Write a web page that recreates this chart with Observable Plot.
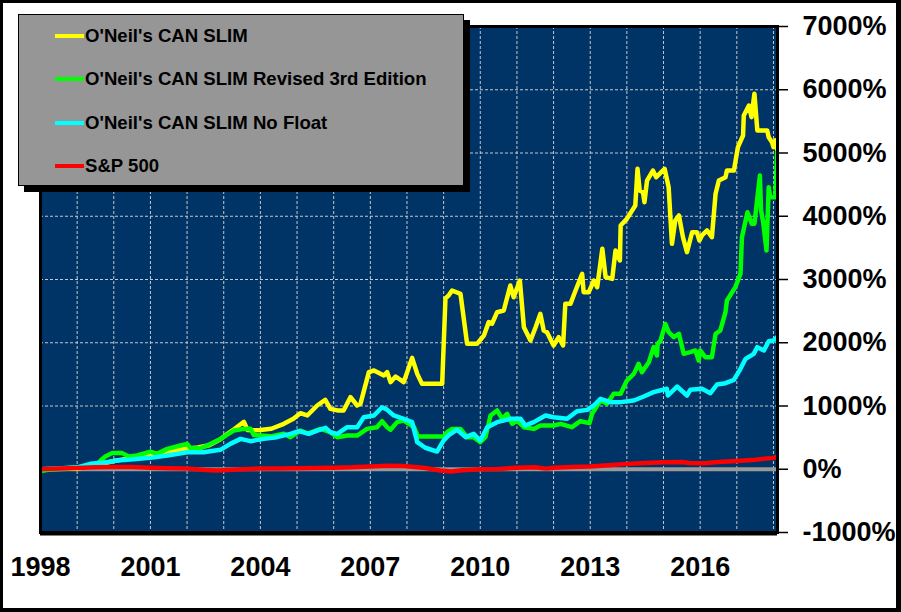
<!DOCTYPE html>
<html>
<head>
<meta charset="utf-8">
<script src="https://cdn.jsdelivr.net/npm/d3@7"></script>
<script src="https://cdn.jsdelivr.net/npm/@observablehq/plot@0.6"></script>
<style>
  html, body { margin: 0; padding: 0; background: #fff; }
  #wrap { position: relative; width: 901px; height: 612px; overflow: hidden; background: #fff; }
  #outline { position: absolute; left: 0; top: 0; width: 901px; height: 612px; box-sizing: border-box;
    border-style: solid; border-color: #000; border-width: 3px 5px 4px 3px; pointer-events: none; }
  .chart text { font-family: "Liberation Sans", Arial, sans-serif; font-weight: bold; font-size: 27px; fill: #000; }
  #legend { position: absolute; left: 18px; top: 14px; width: 446px; height: 172px; box-sizing: border-box;
    background: #969696; border: 1px solid #000; box-shadow: 6px 6px 0 #000;
    font-family: "Liberation Sans", Arial, sans-serif; font-weight: bold; font-size: 18.6px; color: #000; }
  .row { position: absolute; left: 36px; height: 24px; display: flex; align-items: center; white-space: nowrap; }
  .swatch { width: 29px; height: 4px; margin-right: 1px; }
</style>
</head>
<body>
<div id="wrap"></div>
<script>
// ---- Data (decimal year, cumulative return %) ----
const seriesNames = ["O'Neil's CAN SLIM", "O'Neil's CAN SLIM Revised 3rd Edition", "O'Neil's CAN SLIM No Float", "S&P 500"];
const seriesColors = ["#ffff00", "#00ff00", "#00ffff", "#ff0000"];
const yTicks = [-1000, 0, 1000, 2000, 3000, 4000, 5000, 6000, 7000];
const xTickYears = [1998, 2001, 2004, 2007, 2010, 2013, 2016];

const canSlim = [
  [1998.0,0],[1998.5,5],[1999.0,10],[1999.4,40],[1999.7,90],[2000.0,130],[2000.3,160],[2000.6,190],
  [2001.0,230],[2001.3,260],[2001.6,290],[2002.0,330],[2002.3,345],[2002.6,380],[2002.9,470],[2003.1,560],
  [2003.3,640],[2003.55,750],[2003.65,620],[2003.8,615],[2004.0,620],[2004.3,640],[2004.64,718],[2004.9,800],
  [2005.09,887],[2005.28,850],[2005.55,1008],[2005.77,1098],[2005.91,955],[2006.1,930],[2006.27,929],
  [2006.46,1140],[2006.64,1008],[2006.73,1034],[2006.96,1535],[2007.1,1561],[2007.37,1482],[2007.46,1535],
  [2007.55,1377],[2007.69,1466],[2007.91,1377],[2008.14,1761],[2008.28,1508],[2008.41,1350],[2008.96,1350],
  [2009.05,2700],[2009.14,2750],[2009.23,2826],[2009.46,2773],[2009.64,1983],[2009.91,1983],[2010.1,2115],
  [2010.23,2326],[2010.32,2300],[2010.46,2483],[2010.64,2510],[2010.82,2905],[2010.91,2720],[2011.08,2984],
  [2011.19,2246],[2011.37,2036],[2011.51,2246],[2011.64,2457],[2011.73,2194],[2011.82,2167],[2012.0,1957],
  [2012.14,2088],[2012.26,1957],[2012.32,2615],[2012.46,2615],[2012.6,2826],[2012.78,3090],[2012.82,2800],
  [2012.96,2800],[2013.1,2984],[2013.19,2879],[2013.33,3485],[2013.42,3037],[2013.6,3010],[2013.69,3458],
  [2013.81,3300],[2013.83,3854],[2014.0,3959],[2014.23,4170],[2014.29,4750],[2014.35,4407],[2014.44,4381],
  [2014.48,4222],[2014.55,4565],[2014.71,4723],[2014.8,4618],[2015.03,4750],[2015.14,4460],[2015.23,3564],
  [2015.32,3933],[2015.42,4012],[2015.53,3669],[2015.64,3432],[2015.78,3748],[2015.91,3748],[2015.98,3617],
  [2016.05,3696],[2016.19,3775],[2016.32,3669],[2016.42,4355],[2016.51,4565],[2016.69,4618],[2016.73,4723],
  [2016.92,4723],[2017.03,5092],[2017.17,5277],[2017.19,5593],[2017.33,5751],[2017.4,5567],[2017.48,5936],
  [2017.56,5355],[2017.83,5355],[2017.87,5250],[2017.96,5171],[2018.0,5092],[2018.05,5200],[2018.1,5050]
];

const canSlimRevised = [
  [1998.0,-30],[1998.3,0],[1998.8,20],[1999.2,40],[1999.55,80],[1999.64,138],[1999.77,200],[1999.95,255],
  [2000.23,255],[2000.41,200],[2000.64,217],[2001.0,280],[2001.18,243],[2001.46,322],[2001.82,375],[2002.0,401],
  [2002.09,333],[2002.37,333],[2002.55,375],[2002.91,480],[2003.27,612],[2003.55,638],[2003.73,640],[2003.82,540],
  [2004.0,533],[2004.28,520],[2004.64,563],[2004.82,507],[2005.09,612],[2005.3,563],[2005.64,638],[2005.91,586],
  [2006.1,507],[2006.37,533],[2006.64,533],[2006.91,638],[2007.18,665],[2007.32,760],[2007.46,665],[2007.55,625],
  [2007.73,745],[2007.91,770],[2008.19,665],[2008.3,518],[2009.0,518],[2009.1,586],[2009.23,638],[2009.46,638],
  [2009.64,507],[2009.82,507],[2010.0,428],[2010.14,507],[2010.28,850],[2010.46,929],[2010.6,797],[2010.73,876],
  [2010.87,718],[2011.0,770],[2011.19,665],[2011.46,638],[2011.64,692],[2012.0,692],[2012.19,718],[2012.5,665],
  [2012.73,760],[2012.98,729],[2013.05,876],[2013.28,1087],[2013.46,1034],[2013.64,1193],[2013.83,1193],
  [2014.0,1403],[2014.19,1508],[2014.32,1667],[2014.41,1535],[2014.6,1693],[2014.73,1930],[2014.82,1798],
  [2014.84,1983],[2014.92,2036],[2015.05,2299],[2015.14,2167],[2015.28,2088],[2015.42,2141],[2015.55,1825],
  [2015.73,1851],[2015.87,1878],[2015.96,1720],[2016.0,1878],[2016.14,1772],[2016.32,1772],[2016.42,2141],
  [2016.55,2194],[2016.69,2483],[2016.73,2668],[2016.96,2879],[2017.1,3090],[2017.14,3669],[2017.29,4064],
  [2017.41,3880],[2017.48,3880],[2017.63,4644],[2017.66,4100],[2017.72,3900],[2017.81,3458],[2017.87,4460],
  [2017.91,4302],[2018.05,4302],[2018.1,5013]
];

const canSlimNoFloat = [
  [1998.0,0],[1998.5,10],[1999.0,30],[1999.36,86],[1999.82,112],[2000.09,138],[2000.45,154],[2001.0,180],
  [2001.46,217],[2002.0,270],[2002.45,270],[2002.91,307],[2003.18,401],[2003.46,480],[2003.73,444],[2004.09,480],
  [2004.45,507],[2004.82,560],[2005.05,602],[2005.32,560],[2005.55,612],[2005.78,655],[2005.91,586],[2006.1,560],
  [2006.37,665],[2006.64,665],[2006.82,823],[2007.1,850],[2007.32,981],[2007.46,939],[2007.64,850],[2007.91,797],
  [2008.14,745],[2008.28,428],[2008.5,340],[2008.82,280],[2009.0,455],[2009.14,540],[2009.37,625],[2009.6,507],
  [2009.82,560],[2010.0,455],[2010.19,665],[2010.46,745],[2010.82,797],[2011.1,797],[2011.23,692],[2011.46,745],
  [2011.78,850],[2012.0,823],[2012.37,797],[2012.64,918],[2012.92,939],[2013.1,1008],[2013.28,1113],[2013.55,1061],
  [2013.83,1061],[2014.19,1087],[2014.46,1150],[2014.73,1219],[2015.09,1272],[2015.12,1166],[2015.37,1308],
  [2015.64,1166],[2015.73,1256],[2016.05,1272],[2016.28,1203],[2016.46,1340],[2016.69,1361],[2016.92,1413],
  [2017.1,1588],[2017.24,1746],[2017.46,1825],[2017.56,1930],[2017.74,1878],[2017.87,2025],[2018.0,2036],[2018.1,2088]
];

const sp500 = [
  [1998.0,0],[1998.5,10],[1999.0,20],[1999.5,30],[2000.0,35],[2000.5,35],[2001.0,25],[2001.5,15],[2002.0,10],
  [2002.5,-10],[2002.8,-20],[2003.0,-15],[2003.5,0],[2004.0,10],[2004.5,10],[2005.0,15],[2005.5,20],[2006.0,25],
  [2006.5,30],[2007.0,45],[2007.5,55],[2007.9,50],[2008.5,20],[2008.9,-20],[2009.2,-35],[2009.5,-15],[2010.0,0],
  [2010.5,5],[2011.0,25],[2011.5,30],[2011.8,10],[2012.0,25],[2012.5,35],[2013.0,45],[2013.5,65],[2014.0,85],
  [2014.5,100],[2015.0,110],[2015.5,115],[2015.7,100],[2016.1,95],[2016.5,115],[2017.0,130],[2017.5,150],
  [2018.0,180],[2018.1,195]
];

const allSeries = [canSlim, canSlimRevised, canSlimNoFloat, sp500];

const gridYears = d3.range(1999, 2019);
const gridValues = [-1000, 1000, 2000, 3000, 4000, 5000, 6000];

const chart = Plot.plot({
  width: 901,
  height: 612,
  marginLeft: 40,
  marginRight: 124,
  marginTop: 26,
  marginBottom: 80,
  className: "chart",
  style: { background: "transparent", overflow: "visible" },
  x: { domain: [1998, 2018.11] },
  y: { domain: [-1000, 7000] },
  marks: [
    Plot.frame({ fill: "#003366" }),
    Plot.gridX({ ticks: gridYears, stroke: "#c8c8c8", strokeOpacity: 1, strokeDasharray: "3,2", strokeWidth: 1 }),
    Plot.gridY({ ticks: gridValues, stroke: "#c8c8c8", strokeOpacity: 1, strokeDasharray: "3,2", strokeWidth: 1 }),
    Plot.ruleY([0], { stroke: "#999999", strokeWidth: 4 }),
    ...allSeries.map((s, i) => Plot.line(s, {
      x: d => d[0], y: d => d[1], stroke: seriesColors[i], strokeWidth: 4.5, clip: true
    })),
    Plot.frame({ stroke: "#000", strokeWidth: 3 }),
    Plot.ruleY([-1000], { stroke: "#000", strokeWidth: 4, dy: 1 }),
    Plot.axisY({ anchor: "right", ticks: yTicks, tickFormat: d => d + "%", tickSize: 10, tickPadding: 15,
      stroke: "#000", strokeWidth: 1.5 }),
    Plot.axisX({ anchor: "bottom", ticks: xTickYears, tickFormat: d => String(d), tickSize: 0, tickPadding: 24 })
  ]
});

const wrap = document.getElementById("wrap");
wrap.appendChild(chart);
chart.style.position = "absolute";
chart.style.left = "0px";
chart.style.top = "0px";

// Legend overlay
const legend = document.createElement("div");
legend.id = "legend";
const rowCenters = [21, 64, 108, 151];
seriesNames.forEach((name, i) => {
  const row = document.createElement("div");
  row.className = "row";
  row.style.top = (rowCenters[i] - 12) + "px";
  const sw = document.createElement("span");
  sw.className = "swatch";
  sw.style.background = seriesColors[i];
  const tx = document.createElement("span");
  tx.textContent = name;
  row.appendChild(sw);
  row.appendChild(tx);
  legend.appendChild(row);
});
wrap.appendChild(legend);

const outline = document.createElement("div");
outline.id = "outline";
wrap.appendChild(outline);
</script>
</body>
</html>
